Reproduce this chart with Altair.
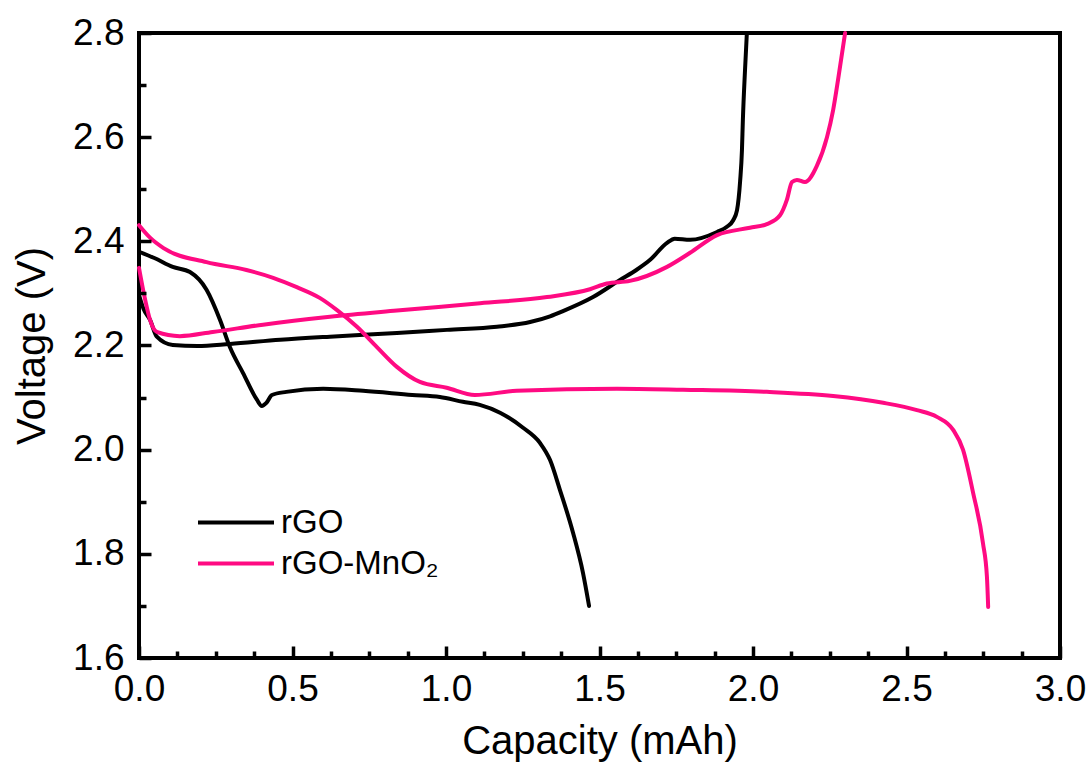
import altair as alt
import pandas as pd

# ---- data ----
rgo_dis_x = [0.0, 0.05, 0.11, 0.166, 0.22, 0.264, 0.296, 0.339, 0.384, 0.40, 0.415, 0.433, 0.48, 0.60,
             0.73, 0.89, 0.98, 1.055, 1.11, 1.176, 1.251, 1.306, 1.339, 1.371, 1.414, 1.446, 1.466]
rgo_dis_v = [2.380, 2.368, 2.351, 2.341, 2.307, 2.249, 2.197, 2.147, 2.096, 2.084, 2.090, 2.105, 2.111, 2.117,
             2.113, 2.105, 2.101, 2.092, 2.086, 2.071, 2.042, 2.013, 1.980, 1.923, 1.840, 1.764, 1.700]

rgo_chg_x = [0.0, 0.015, 0.036, 0.058, 0.11, 0.19, 0.296, 0.46, 0.622, 0.84, 1.003, 1.166, 1.274, 1.339,
             1.381, 1.479, 1.567, 1.62, 1.664, 1.72, 1.745, 1.795, 1.883, 1.915, 1.935, 1.948, 1.958,
             1.964, 1.967, 1.974, 1.98]
rgo_chg_v = [2.297, 2.270, 2.249, 2.217, 2.201, 2.199, 2.203, 2.211, 2.217, 2.224, 2.230, 2.236, 2.245, 2.256,
             2.266, 2.293, 2.326, 2.345, 2.364, 2.397, 2.405, 2.403, 2.418, 2.428, 2.440, 2.460, 2.515,
             2.575, 2.633, 2.729, 2.800]

mno_dis_x = [0.0, 0.036, 0.08, 0.22, 0.35, 0.437, 0.514, 0.59, 0.645, 0.71, 0.775, 0.84, 0.915, 1.002,
             1.094, 1.23, 1.557, 1.772, 2.045, 2.261, 2.424, 2.534, 2.599, 2.652, 2.684, 2.717, 2.749,
             2.762, 2.766]
mno_dis_v = [2.431, 2.407, 2.387, 2.360, 2.345, 2.330, 2.312, 2.291, 2.268, 2.236, 2.197, 2.159, 2.130, 2.119,
             2.105, 2.113, 2.117, 2.115, 2.111, 2.103, 2.090, 2.076, 2.063, 2.038, 2.000, 1.917, 1.821,
             1.756, 1.698]

mno_chg_x = [0.0, 0.02, 0.036, 0.058, 0.133, 0.24, 0.404, 0.622, 0.84, 1.111, 1.329, 1.469, 1.524, 1.599,
             1.72, 1.795, 1.883, 1.99, 2.045, 2.088, 2.11, 2.127, 2.143, 2.169, 2.208, 2.241, 2.261,
             2.277, 2.30]
mno_chg_v = [2.349, 2.288, 2.249, 2.226, 2.218, 2.226, 2.240, 2.255, 2.267, 2.281, 2.293, 2.308, 2.319, 2.324,
             2.351, 2.378, 2.412, 2.426, 2.433, 2.450, 2.479, 2.514, 2.518, 2.514, 2.545, 2.600, 2.652,
             2.710, 2.800]

series_names = ["rGO", "rGO-MnO\u2082"]
series_colors = ["#000000", "#FF0A82"]

x_major = [0.0, 0.5, 1.0, 1.5, 2.0, 2.5, 3.0]
x_minor = [0.125, 0.25, 0.375, 0.625, 0.75, 0.875, 1.125, 1.25, 1.375, 1.625, 1.75, 1.875,
           2.125, 2.25, 2.375, 2.625, 2.75, 2.875]
y_major = [1.6, 1.8, 2.0, 2.2, 2.4, 2.6, 2.8]
y_minor = [1.7, 1.9, 2.1, 2.3, 2.5, 2.7]

# ---- build table ----
rows = []
for name, curve, xs_, vs_ in [
    (series_names[0], "rgo_dis", rgo_dis_x, rgo_dis_v),
    (series_names[0], "rgo_chg", rgo_chg_x, rgo_chg_v),
    (series_names[1], "mno_dis", mno_dis_x, mno_dis_v),
    (series_names[1], "mno_chg", mno_chg_x, mno_chg_v),
]:
    for i, (x, v) in enumerate(zip(xs_, vs_)):
        rows.append({"cap": x, "volt": v, "sample": name, "curve": curve, "idx": i})
df = pd.DataFrame(rows)

FONT = "Liberation Sans"
MAJ, MIN = 12, 7  # inward tick lengths in px (part is hidden under the frame)

xs = alt.Scale(domain=[0, 3], nice=False, zero=False)
ys = alt.Scale(domain=[1.6, 2.8], nice=False, zero=False)

# main axes: labels + inward major ticks (axis shifted into the plot by the tick length)
xaxis = alt.Axis(values=x_major, format=".1f", title="Capacity (mAh)", grid=False, domain=False,
                 ticks=True, tickSize=MAJ, tickWidth=3.5, tickColor="black", offset=-MAJ, orient="bottom",
                 labelPadding=13, labelFontSize=37, labelFont=FONT,
                 labelFlush=False, labelOverlap=False, zindex=1,
                 labelColor="black", titleFont=FONT, titleFontSize=40, titleFontWeight="normal",
                 titleColor="black", titlePadding=14)
yaxis = alt.Axis(values=y_major, format=".1f", title="Voltage (V)", grid=False, domain=False,
                 ticks=True, tickSize=MAJ, tickWidth=3.5, tickColor="black", offset=-MAJ, orient="left",
                 labelPadding=15, labelFontSize=37, labelFont=FONT,
                 labelFlush=False, labelOverlap=False, zindex=1,
                 labelColor="black", titleFont=FONT, titleFontSize=40, titleFontWeight="normal",
                 titleColor="black", titlePadding=20)
# minor axes: inward minor ticks only
xaxis_minor = alt.Axis(values=x_minor, title=None, grid=False, domain=False, labels=False, zindex=1,
                       ticks=True, tickSize=MIN, tickWidth=3.5, tickColor="black", offset=-MIN, orient="bottom")
yaxis_minor = alt.Axis(values=y_minor, title=None, grid=False, domain=False, labels=False, zindex=1,
                       ticks=True, tickSize=MIN, tickWidth=3.5, tickColor="black", offset=-MIN, orient="left")

lines = alt.Chart(df).mark_line(strokeWidth=4, interpolate="monotone", strokeCap="round", strokeJoin="round").encode(
    x=alt.X("cap:Q", scale=xs, axis=xaxis),
    y=alt.Y("volt:Q", scale=ys, axis=yaxis),
    color=alt.Color("sample:N", scale=alt.Scale(domain=series_names, range=series_colors),
                    legend=alt.Legend(title=None, orient="none", legendX=57, legendY=469,
                                      symbolType="stroke", symbolStrokeWidth=4, symbolSize=5776,
                                      labelFont=FONT, labelFontSize=33, labelColor="black",
                                      labelOffset=5, rowPadding=0, clipHeight=41)),
    detail="curve:N",
    order="idx:Q",
)

minor = alt.Chart(df).mark_line(strokeOpacity=0).encode(
    x=alt.X("cap:Q", scale=xs, axis=xaxis_minor),
    y=alt.Y("volt:Q", scale=ys, axis=yaxis_minor),
    detail="curve:N",
)

chart = alt.layer(lines, minor).resolve_axis(x="independent", y="independent").properties(
    width=921, height=625,
    padding={"left": 139, "top": 33, "right": 31, "bottom": 106},
    autosize=alt.AutoSizeParams(type="none"),
).configure(
    background="white"
).configure_view(
    stroke="black", strokeWidth=4, fill="white"
)

chart.save("out.html", embed_options={"renderer": "svg", "actions": False})
